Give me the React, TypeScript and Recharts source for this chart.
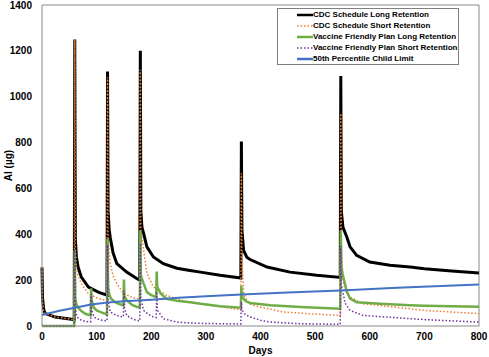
import React from 'react';
import { LineChart, Line, XAxis, YAxis, Legend, ReferenceLine } from 'recharts';

const xTicks = [0, 100, 200, 300, 400, 500, 600, 700, 800];
const yTicks = [0, 200, 400, 600, 800, 1000, 1200, 1400];

// [day, Al µg]
const cdcLong: [number, number][] = [
  [0, 256], [1, 120], [3, 75], [5.5, 55], [24, 39], [54, 29], [59, 27],
  [60, 1250], [61, 380], [63, 300], [66, 257], [72, 213], [85, 170], [103, 148], [119, 135],
  [120, 1110], [121, 500], [123, 420], [125, 385], [130, 320], [137, 272], [155, 235], [174, 206], [179, 200],
  [180, 1200], [181, 500], [183, 430], [186, 404], [192, 345], [204, 301], [222, 272], [247, 252], [271, 242], [290, 235], [326, 221], [364, 209],
  [365, 805], [366, 420], [369, 330], [375, 300], [381, 290], [412, 257], [454, 235], [503, 221], [546, 212],
  [547, 1090], [548, 500], [551, 430], [558, 388], [564, 345], [576, 308], [600, 279], [637, 265], [674, 257], [700, 250], [750, 240], [800, 231],
];

const cdcShort: [number, number][] = [
  [0, 256], [1, 110], [3, 70], [5.5, 55], [24, 39], [54, 29], [59, 27],
  [60, 1250], [61, 340], [63, 260], [66, 220], [72, 185], [85, 140], [103, 120], [119, 110],
  [120, 1085], [121, 420], [123, 320], [125, 272], [130, 220], [137, 185], [149, 142], [165, 125], [179, 118],
  [180, 1118], [181, 420], [186, 330], [192, 230], [204, 170], [228, 134], [259, 108], [290, 98], [326, 84], [364, 70],
  [365, 666], [366, 300], [369, 150], [372, 125], [381, 95], [400, 82], [442, 61], [500, 52], [546, 46],
  [547, 927], [548, 350], [551, 200], [555, 155], [564, 126], [588, 97], [674, 75], [700, 68], [800, 54],
];

const vfLong: [number, number][] = [
  [0, 0], [59, 0],
  [60, 330], [61, 120], [63, 95], [66, 80], [72, 65], [80, 52], [89, 46],
  [90, 164], [91, 110], [95, 80], [100, 68], [110, 58], [119, 50],
  [120, 382], [121, 170], [123, 140], [126, 120], [135, 102], [149, 90],
  [150, 203], [151, 130], [155, 112], [165, 92], [174, 83], [179, 81],
  [180, 415], [181, 220], [186, 186], [192, 148], [200, 135], [209, 126],
  [210, 238], [211, 170], [217, 142], [228, 118], [247, 110], [271, 104], [290, 97], [326, 86], [364, 80],
  [365, 175], [366, 130], [372, 110], [381, 100], [418, 90], [473, 83], [546, 75],
  [547, 415], [548, 260], [550, 230], [555, 180], [558, 150], [564, 119], [576, 104], [619, 97], [674, 90], [700, 88], [800, 84],
];

const vfShort: [number, number][] = [
  [0, 0], [59, 0],
  [60, 330], [61, 80], [63, 50], [66, 35], [72, 25], [80, 20], [89, 18],
  [90, 140], [91, 70], [95, 40], [100, 32], [110, 25], [119, 22],
  [120, 354], [121, 110], [125, 61], [135, 48], [143, 42], [149, 40],
  [150, 155], [151, 80], [155, 46], [165, 32], [174, 24], [179, 22],
  [180, 360], [181, 120], [186, 68], [195, 50], [204, 39], [209, 37],
  [210, 150], [211, 70], [222, 32], [247, 17], [271, 13], [300, 11], [364, 9],
  [365, 105], [366, 70], [372, 50], [381, 39], [400, 25], [418, 17], [473, 10], [546, 7],
  [547, 350], [548, 180], [555, 99], [564, 68], [588, 46], [674, 32], [700, 28], [800, 17],
];

const childLimit: [number, number][] = [
  [0, 48], [30, 65], [60, 80], [90, 94], [120, 102], [150, 108], [200, 115], [250, 123],
  [300, 130], [365, 137], [450, 146], [547, 155], [650, 167], [800, 181],
];

const toData = (pts: [number, number][]) => pts.map(([day, v]) => ({ day, v }));

const FONT = "'Liberation Sans', Arial, sans-serif";

const series = [
  { name: 'CDC Schedule Long Retention', pts: cdcLong, color: '#000000', width: 3, dash: undefined as string | undefined },
  { name: 'CDC Schedule Short Retention', pts: cdcShort, color: '#ED7D31', width: 1.5, dash: '1.5 2' },
  { name: 'Vaccine Friendly Plan Long Retention', pts: vfLong, color: '#70AD47', width: 2.5, dash: undefined },
  { name: 'Vaccine Friendly Plan Short Retention', pts: vfShort, color: '#7030A0', width: 1.5, dash: '1.5 2' },
  { name: '50th Percentile Child Limit', pts: childLimit, color: '#4472C4', width: 2, dash: undefined },
];

const LegendBox = () => (
  <div
    style={{
      border: '1px solid #7f7f7f',
      background: '#fff',
      width: 180,
      fontFamily: FONT,
      fontWeight: 'bold',
      fontSize: 8,
      color: '#000',
    }}
  >
    {series.map((s) => (
      <div key={s.name} style={{ display: 'flex', alignItems: 'center', height: 11, paddingLeft: 19 }}>
        <svg width={16} height={6} style={{ display: 'block' }}>
          <line x1={0} y1={3} x2={16} y2={3} stroke={s.color} strokeWidth={s.dash ? 1.5 : 2.5} strokeDasharray={s.dash} />
        </svg>
        <span style={{ whiteSpace: 'nowrap', lineHeight: '11px' }}>{s.name}</span>
      </div>
    ))}
  </div>
);

export default function App() {
  return (
    <div style={{ position: 'absolute', left: 0, top: 0, width: 489, height: 357, background: '#fff' }}>
      <LineChart width={489} height={357} margin={{ top: 5, right: 10, left: 0, bottom: 0 }}>
        <XAxis
          dataKey="day"
          type="number"
          domain={[0, 800]}
          ticks={xTicks}
          tickLine={false}
          tickMargin={1}
          height={31}
          axisLine={{ stroke: '#898989' }}
          tick={{ fill: '#000', fontSize: 10, fontWeight: 'bold', fontFamily: FONT }}
          label={{ value: 'Days', position: 'insideBottom', offset: 3, style: { fill: '#000', fontSize: 10, fontWeight: 'bold', fontFamily: FONT } }}
          allowDuplicatedCategory={false}
        />
        <YAxis
          type="number"
          domain={[0, 1400]}
          ticks={yTicks}
          tickLine={false}
          tickMargin={4}
          width={42}
          axisLine={{ stroke: '#898989' }}
          tick={{ fill: '#000', fontSize: 10, fontWeight: 'bold', fontFamily: FONT }}
          label={{ value: 'Al (µg)', angle: -90, position: 'insideLeft', offset: 8, style: { textAnchor: 'middle', fill: '#000', fontSize: 10, fontWeight: 'bold', fontFamily: FONT } }}
        />
        <ReferenceLine y={1400} stroke="#898989" />
        <ReferenceLine x={800} stroke="#898989" />
        {series.map((s) => (
          <Line
            key={s.name}
            data={toData(s.pts)}
            dataKey="v"
            name={s.name}
            type="linear"
            stroke={s.color}
            strokeWidth={s.width}
            strokeDasharray={s.dash}
            dot={false}
            activeDot={false}
            isAnimationActive={false}
          />
        ))}
        <Legend
          layout="vertical"
          align="center"
          verticalAlign="middle"
          content={() => <LegendBox />}
          wrapperStyle={{ position: 'absolute', top: 8, left: 277, width: 182, height: 57 }}
        />
      </LineChart>
    </div>
  );
}
